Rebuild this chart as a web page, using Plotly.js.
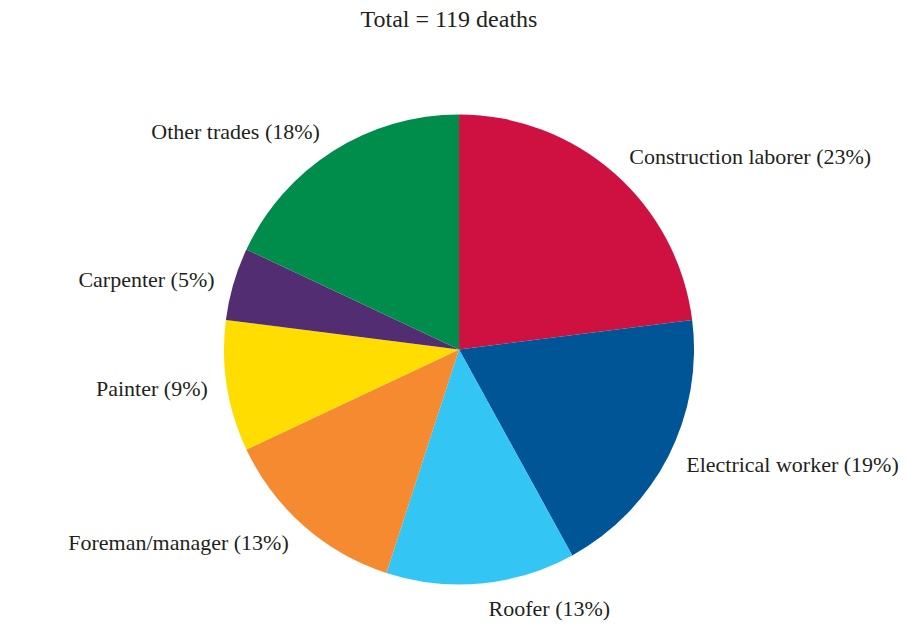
<!DOCTYPE html>
<html>
<head>
<meta charset="utf-8">
<script src="https://cdn.plot.ly/plotly-3.0.1.min.js"></script>
<style>html,body{margin:0;padding:0;background:#fff;}#chart{width:907px;height:634px;}</style>
</head>
<body>
<div id="chart"></div>
<script>
const occupations = ["Construction laborer", "Electrical worker", "Roofer", "Foreman/manager", "Painter", "Carpenter", "Other trades"];
const percents = [23, 19, 13, 13, 9, 5, 18];
const colors = ["#CE1141", "#005596", "#33C5F3", "#F58A31", "#FFDD00", "#522D72", "#008C4A"];
const totalDeaths = 119;

const serif = "Liberation Serif, Times New Roman, serif";

// the pie itself
const pieTrace = {
  type: "pie",
  labels: occupations,
  values: percents,
  sort: false,
  direction: "clockwise",
  rotation: 0,
  marker: {colors: colors, line: {width: 0}},
  textinfo: "none",
  hoverinfo: "label+percent",
  showlegend: false,
  domain: {x: [0.2470, 0.7652], y: [0.0781, 0.8194]}
};

// same data, slightly larger and transparent, only to carry the outside labels a little further out
const labelTrace = {
  type: "pie",
  labels: occupations,
  values: percents,
  sort: false,
  direction: "clockwise",
  rotation: 0,
  marker: {colors: occupations.map(() => "rgba(0,0,0,0)"), line: {width: 0}},
  textposition: "outside",
  texttemplate: "%{label} (%{value}%)",
  textfont: {family: serif, size: 22, color: "#231F20"},
  hoverinfo: "skip",
  showlegend: false,
  domain: {x: [0.2326, 0.7795], y: [0.0576, 0.8399]}
};

const layout = {
  width: 907, height: 634,
  margin: {l: 0, r: 0, t: 0, b: 0},
  paper_bgcolor: "#fff",
  title: {
    text: "Total = " + totalDeaths + " deaths",
    font: {family: serif, size: 24, color: "#231F20"},
    x: 0.495, xanchor: "center", y: 0.97, yanchor: "middle"
  },
  showlegend: false
};

Plotly.newPlot("chart", [labelTrace, pieTrace], layout, {displayModeBar: false});
</script>
</body>
</html>
